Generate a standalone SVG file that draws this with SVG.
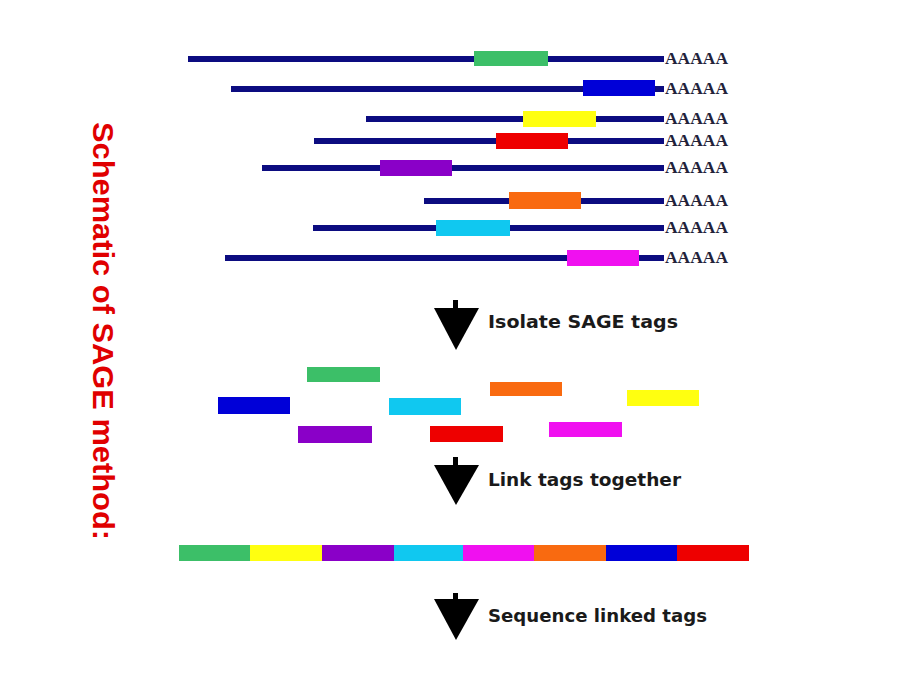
<svg xmlns="http://www.w3.org/2000/svg" width="920" height="690" viewBox="0 0 920 690">
<style>
.ln{stroke:#0c0c80;stroke-width:6}
.pa{font-family:"Liberation Serif",serif;font-weight:bold;font-size:16px;fill:#22223a}
.lbl{font-family:"DejaVu Sans","Liberation Sans",sans-serif;font-weight:bold;font-size:17px;fill:#1a1a1a}
.ttl{font-family:"Liberation Sans",Arial,sans-serif;font-weight:bold;font-size:30px;fill:#e00000}
.g{fill:#3cbf68}.b{fill:#0000d8}.y{fill:#ffff10}.r{fill:#ee0000}.p{fill:#8a00c8}.o{fill:#f96a10}.c{fill:#10c8f0}.m{fill:#f010f0}
.arr{fill:#000}
</style>
<rect width="920" height="690" fill="#fff"/>
<g id="title"><text class="ttl" transform="translate(93,122) rotate(90)" textLength="418" lengthAdjust="spacingAndGlyphs">Schematic of SAGE method:</text></g>
<g id="transcript1"><line class="ln" x1="188" y1="59" x2="664" y2="59"/><rect class="g" x="474" y="51" width="74" height="15"/><text class="pa" x="665" y="64" textLength="63" lengthAdjust="spacingAndGlyphs">AAAAA</text></g>
<g id="transcript2"><line class="ln" x1="231" y1="89" x2="664" y2="89"/><rect class="b" x="583" y="80" width="72" height="16"/><text class="pa" x="665" y="94" textLength="63" lengthAdjust="spacingAndGlyphs">AAAAA</text></g>
<g id="transcript3"><line class="ln" x1="366" y1="119" x2="664" y2="119"/><rect class="y" x="523" y="111" width="73" height="16"/><text class="pa" x="665" y="124" textLength="63" lengthAdjust="spacingAndGlyphs">AAAAA</text></g>
<g id="transcript4"><line class="ln" x1="314" y1="141" x2="664" y2="141"/><rect class="r" x="496" y="133" width="72" height="16"/><text class="pa" x="665" y="146" textLength="63" lengthAdjust="spacingAndGlyphs">AAAAA</text></g>
<g id="transcript5"><line class="ln" x1="262" y1="168" x2="664" y2="168"/><rect class="p" x="380" y="160" width="72" height="16"/><text class="pa" x="665" y="173" textLength="63" lengthAdjust="spacingAndGlyphs">AAAAA</text></g>
<g id="transcript6"><line class="ln" x1="424" y1="201" x2="664" y2="201"/><rect class="o" x="509" y="192" width="72" height="17"/><text class="pa" x="665" y="206" textLength="63" lengthAdjust="spacingAndGlyphs">AAAAA</text></g>
<g id="transcript7"><line class="ln" x1="313" y1="228" x2="664" y2="228"/><rect class="c" x="436" y="220" width="74" height="16"/><text class="pa" x="665" y="233" textLength="63" lengthAdjust="spacingAndGlyphs">AAAAA</text></g>
<g id="transcript8"><line class="ln" x1="225" y1="258" x2="664" y2="258"/><rect class="m" x="567" y="250" width="72" height="16"/><text class="pa" x="665" y="263" textLength="63" lengthAdjust="spacingAndGlyphs">AAAAA</text></g>
<g id="free-tags">
<rect class="g" x="307" y="367" width="73" height="15"/>
<rect class="b" x="218" y="397" width="72" height="17"/>
<rect class="p" x="298" y="426" width="74" height="17"/>
<rect class="c" x="389" y="398" width="72" height="17"/>
<rect class="r" x="430" y="426" width="73" height="16"/>
<rect class="o" x="490" y="382" width="72" height="14"/>
<rect class="m" x="549" y="422" width="73" height="15"/>
<rect class="y" x="627" y="390" width="72" height="16"/>
</g>
<g id="linked-tags">
<rect class="g" x="179" y="545" width="71" height="16"/>
<rect class="y" x="250" y="545" width="72" height="16"/>
<rect class="p" x="322" y="545" width="72" height="16"/>
<rect class="c" x="394" y="545" width="69" height="16"/>
<rect class="m" x="463" y="545" width="71" height="16"/>
<rect class="o" x="534" y="545" width="72" height="16"/>
<rect class="b" x="606" y="545" width="71" height="16"/>
<rect class="r" x="677" y="545" width="72" height="16"/>
</g>
<g id="connectors">
<g id="arrow1"><rect class="arr" x="453" y="300" width="5" height="9"/><polygon class="arr" points="434,308 479,308 456,350"/></g>
<g id="arrow2"><rect class="arr" x="453" y="457" width="5" height="9"/><polygon class="arr" points="434,465 479,465 456,505"/></g>
<g id="arrow3"><rect class="arr" x="453" y="593" width="5" height="7"/><polygon class="arr" points="434,599 479,599 456,640"/></g>
</g>
<g id="labels">
<text class="lbl" x="488" y="328" textLength="190" lengthAdjust="spacingAndGlyphs">Isolate SAGE tags</text>
<text class="lbl" x="488" y="486" textLength="193" lengthAdjust="spacingAndGlyphs">Link tags together</text>
<text class="lbl" x="488" y="622" textLength="219" lengthAdjust="spacingAndGlyphs">Sequence linked tags</text>
</g>
</svg>
